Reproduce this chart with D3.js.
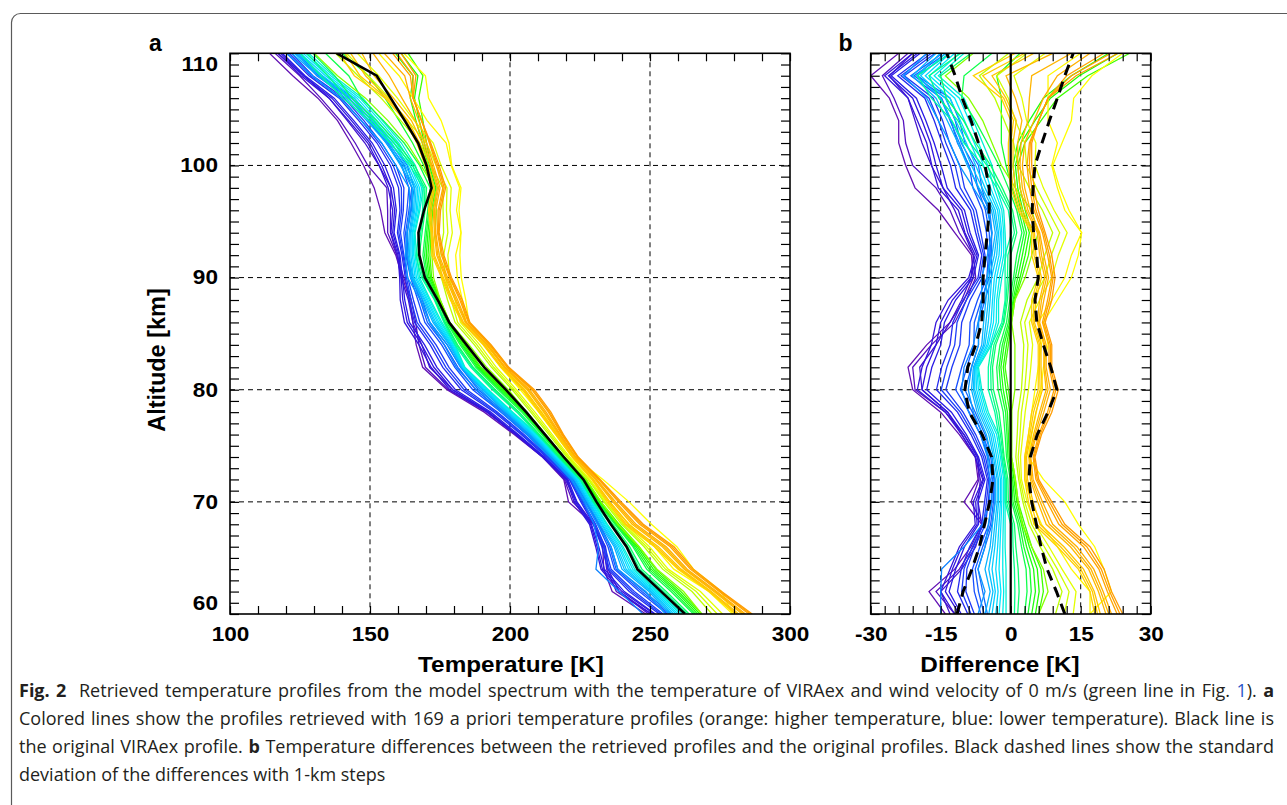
<!DOCTYPE html>
<html><head><meta charset="utf-8">
<script src="https://cdn.jsdelivr.net/npm/d3@7"></script>
<style>body{margin:0;background:#fff;} svg{display:block;}</style>
</head><body>
<svg id="chart" width="1287" height="805"></svg>
<script>
// ---------------- data ----------------
const altitudes = [60,62,64,66,68,70,72,74,76,78,80,82,84,86,88,90,92,94,96,98,100,102,104,106,108,110];
const viraexProfile = [262.5,254,245.5,241.6,236,230.9,226.2,219.2,212.5,205.8,198.5,190.8,184.5,178.3,174.2,169.6,167.6,167.3,169.3,172,170.2,167.2,162.4,157.4,152.4,138.1];
const sigmaMinus = [-11.5,-10.2,-8.3,-6.7,-5.6,-4.5,-3.8,-4.1,-6.1,-8.9,-9.8,-9.2,-7.5,-6.2,-5.9,-5.9,-5.5,-5,-4.6,-4.6,-5.5,-6.9,-8.5,-10.4,-11.9,-13.7];
const sigmaPlus  = [11.6,9.8,7.8,6.5,5.5,4.5,3.9,4.2,5.7,8,9.9,8.6,7,5.6,5.2,5.9,5.6,4.9,4.6,4.8,5.2,6.7,8.3,10,11.6,13.4];

// differences (retrieved - original), one array per profile, altitudes 60..110 km
const purpleDiffs = [
  [-14,-17.5,-12,-8.5,-6.2,-10,-7,-7.6,-11,-15,-21,-22,-18,-13,-10,-8,-8.4,-12,-15.5,-20.5,-22.5,-24,-24,-26,-30,-24],
  [-12,-16,-11,-8,-6,-8.5,-6.8,-7,-10,-14,-20.5,-21,-17,-12,-9.5,-7.5,-8,-11,-13,-16,-21,-22.5,-23,-25,-27.5,-22],
  [-13,-15,-10.5,-7.5,-6.2,-7,-6.5,-7.5,-10.5,-13.5,-19,-19.5,-16,-13,-10.5,-8.5,-8,-10,-12,-14.5,-17,-19,-20.5,-22,-26,-21]
];
const purpleColorPos = [0.0, 0.03, 0.07];

const blueDiffs = [
  [-12,-15,-13,-11,-7.6,-8,-6,-7.6,-10.5,-14,-20,-19,-17,-16,-13.4,-9,-7.6,-9.8,-11.2,-15.5,-16.9,-18,-20,-22,-27,-21],
  [-11,-14,-12.5,-10.5,-7.2,-7.5,-5.8,-7.2,-10,-13.5,-19,-18,-16,-15,-12.5,-8.5,-7.2,-9.2,-10.5,-14.5,-16,-17.2,-19,-21,-26.2,-20],
  [-10.6,-13.2,-11.8,-9.9,-6.9,-7,-5.5,-6.9,-9.5,-12.7,-18,-16.9,-15,-14.2,-11.8,-8,-6.9,-8.7,-9.9,-13.6,-14.9,-16.4,-18.2,-20.2,-25.6,-19.4],
  [-9.2,-11.4,-10.6,-8.8,-6.2,-5.6,-5,-6.2,-8.5,-11.4,-15.9,-14.8,-13,-12.4,-10.2,-7,-6.2,-7.5,-8.6,-11.8,-12.9,-14.7,-16.4,-18.4,-24.2,-17.8],
  [-8.5,-10.5,-10,-8.2,-5.8,-5.2,-4.7,-5.8,-8,-10.8,-14.9,-13.7,-12,-11.5,-9.5,-6.6,-5.8,-7,-8,-10.8,-11.9,-13.9,-15.5,-17.5,-23.5,-17],
  [-7.8,-9.6,-9.4,-7.7,-5.4,-4.8,-4.4,-5.4,-7.5,-10.2,-13.9,-12.6,-10.9,-10.5,-8.7,-6.1,-5.5,-6.4,-7.4,-9.9,-10.9,-13.1,-14.6,-16.6,-22.8,-16.2],
  [-6.4,-7.8,-8.2,-6.6,-4.7,-4.1,-3.9,-4.7,-6.5,-8.9,-11.8,-10.5,-8.9,-8.7,-7.1,-5.1,-4.8,-5.2,-6.1,-8.1,-8.9,-11.4,-12.8,-14.8,-21.4,-14.6],
  [-5.7,-6.9,-7.6,-6,-4.3,-3.7,-3.6,-4.3,-6,-8.2,-10.8,-9.4,-7.9,-7.8,-6.3,-4.6,-4.4,-4.6,-5.4,-7.1,-7.9,-10.6,-11.9,-13.9,-20.7,-13.8],
  [-5,-6,-7,-5.5,-4,-3.4,-3.4,-4,-5.5,-7.6,-9.8,-8.4,-6.9,-6.9,-5.5,-4.1,-4.1,-4.1,-4.8,-6.2,-6.9,-9.8,-11,-13,-20,-13]
];
const blueColorPos = [0.1, 0.11, 0.13, 0.16, 0.2, 0.19, 0.23, 0.25, 0.27];

const cyanDiffs = [
  [-15,-15,-14.8,-10,-6,-4.5,-4.5,-5,-6.5,-9,-10.5,-10,-8,-7,-6,-5,-4.5,-4,-4.5,-7,-9,-11,-13,-15,-20,-15],
  [-7,-5.5,-7,-5.5,-4.8,-4,-4,-4.8,-6,-8,-9.1,-8.4,-6.9,-6.9,-6.2,-6.2,-5,-4,-5,-8,-11,-13,-15.5,-18,-23,-18],
  [-5.5,-4.4,-5.5,-4.4,-3.9,-3.3,-3.3,-4.1,-5.2,-7.2,-8.4,-8,-6.2,-5.8,-5.3,-5.1,-4,-3.3,-4.1,-6.8,-9.3,-11.3,-13.6,-16,-21.1,-16],
  [-4.7,-3.8,-4.7,-3.9,-3.4,-2.9,-2.9,-3.7,-4.7,-6.8,-8,-7.8,-5.8,-5.3,-4.8,-4.6,-3.5,-2.9,-3.7,-6.1,-8.4,-10.4,-12.7,-15,-20.2,-15],
  [-4,-3.3,-4,-3.4,-3,-2.6,-2.6,-3.4,-4.3,-6.4,-7.7,-7.7,-5.5,-4.8,-4.4,-4.1,-3,-2.6,-3.3,-5.5,-7.5,-9.5,-11.8,-14,-19.3,-14],
  [-3.2,-2.7,-3.2,-2.8,-2.5,-2.2,-2.2,-3,-3.9,-6,-7.3,-7.5,-5.1,-4.2,-3.9,-3.5,-2.5,-2.2,-2.8,-4.9,-6.6,-8.6,-10.8,-13,-18.3,-13],
  [-2.5,-2.1,-2.5,-2.3,-2.1,-1.9,-1.9,-2.6,-3.5,-5.6,-6.9,-7.3,-4.8,-3.7,-3.5,-3,-2,-1.9,-2.4,-4.3,-5.8,-7.8,-9.9,-12,-17.4,-12],
  [-1.7,-1.5,-1.7,-1.7,-1.6,-1.5,-1.5,-2.2,-3,-5.2,-6.5,-7.1,-4.4,-3.1,-3,-2.4,-1.5,-1.5,-1.9,-3.6,-4.9,-6.9,-8.9,-11,-16.4,-11],
  [-1,-1,-1,-1.2,-1.2,-1.2,-1.2,-1.9,-2.6,-4.8,-6.2,-6.9,-4.1,-2.6,-2.6,-1.9,-1,-1.2,-1.5,-3,-4,-6,-8,-10,-15.5,-10]
];
const cyanColorPos = [0.3, 0.33, 0.37, 0.39, 0.41, 0.43, 0.45, 0.47, 0.49];

const greenDiffs = [
  [0,0,0,0,0,-1.2,-1.2,-1.9,-2.6,-3.4,-4.8,-4.8,-4.1,-1.9,-1.2,-1.2,-1.2,0.2,-0.5,-3,-6,-10,-12.6,-17,-20,-13],
  [0.8,0.9,0.8,0.5,0.4,-0.9,-0.9,-1.6,-2.2,-3,-4.2,-4.3,-3.6,-1.6,-1,-0.7,-0.6,0.8,0,-2.4,-5.1,-8.7,-11.3,-15.4,-17.5,-10.7],
  [1.5,1.8,1.6,1.1,0.8,-0.5,-0.6,-1.4,-1.9,-2.5,-3.7,-3.9,-3.2,-1.4,-0.7,-0.3,0,1.3,0.4,-1.8,-4.3,-7.5,-10.1,-13.8,-15,-8.5],
  [3,3.5,3.3,2.3,1.5,0.2,-0.1,-0.9,-1.2,-1.6,-2.7,-3,-2.3,-0.9,-0.2,0.6,1.3,2.4,1.3,-0.5,-2.5,-5,-7.6,-10.5,-10,-4],
  [3.7,4.4,4.1,2.8,1.9,0.5,0.2,-0.6,-0.8,-1.1,-2.1,-2.5,-1.8,-0.5,0.2,1,1.9,2.9,1.7,0.3,-1,-2,-2,-2,-3,2],
  [4.5,5.3,4.9,3.4,2.3,0.9,0.4,-0.3,-0.5,-0.7,-1.6,-2.1,-1.4,-0.2,0.5,1.5,2.5,3.4,2.2,1,0.5,1.5,4,7,13,21],
  [5.3,6.1,5.7,4,2.6,1.3,0.7,0,-0.1,-0.2,-1,-1.6,-0.9,0,0.7,2,3.1,4,2.6,1.5,1,2.2,5.2,8.5,14.7,23],
  [6,7,6.5,4.5,3,1.6,1,0.2,0.2,0.2,-0.5,-1.2,-0.5,0.2,0.9,2.4,3.8,4.5,3.1,2,1.5,3,6.5,10,16.5,25.5]
];
const greenColorPos = [0.54, 0.56, 0.58, 0.6, 0.62, 0.64, 0.65, 0.67];

const yellowDiffs = [
  [6,8,7,4.5,2.5,1.6,1,0.2,0.2,0.2,0.9,0.9,0.9,0.2,0.9,3.1,4.5,5.9,4.5,1,-2,-4,-6,-9,-14,-8],
  [9.6,11,9,6.3,3.9,2.6,1.7,1.1,1.4,1.6,2.3,2.6,2.8,2.1,3.5,5.9,7.3,9,6.8,4,1.6,0.6,-1.4,-3.4,-6.7,-0.4],
  [11.5,12.5,10,7.2,4.5,3,2,1.6,2,2.3,3,3.4,3.7,3,4.8,7.3,8.7,10.5,8,5.5,3.4,3,1,-0.5,-3,3.5],
  [13.4,14,11,8.2,5.2,3.5,2.3,2.1,2.6,3.1,3.8,4.3,4.7,4,6.2,8.8,10.2,12.1,9.3,7,5.2,5.4,3.4,2.4,0.7,7.4],
  [17,17,13,10,6.6,4.5,3,3,3.8,4.5,5.2,5.9,6.6,5.9,8.8,11.6,13,15.2,11.6,10,8.8,10,8,8,8,15],
  [17,21.6,20,18,14.5,11.6,7,3.8,4.5,5.5,6.5,7,8,7,10,13,14.5,15.2,12.5,10.5,9,11,13,13.5,17.4,24]
];
const yellowColorPos = [0.72, 0.76, 0.78, 0.8, 0.84, 0.83];

const orangeDiffs = [
  [18,17,14.5,10,5,3.8,3,3,3.8,4.5,5.9,5.9,5.9,4.5,4.5,5.9,4.5,4.5,1.6,0,-0.5,-0.5,0,-2,-8,1],
  [18.6,17.5,15,10.7,5.6,4.3,3.3,3.2,4.1,4.9,6.3,6.2,6.2,4.8,5,6.2,5,4.8,2,0.5,0,0,0.6,-1.5,-6,3],
  [19.2,17.9,15.6,11.4,6.3,4.8,3.6,3.4,4.4,5.4,6.8,6.5,6.5,5.1,5.4,6.6,5.4,5.1,2.5,1,0.5,0.5,1.2,-1,-4,5],
  [20.4,18.8,16.7,12.8,7.6,5.8,4.2,3.9,4.9,6.2,7.6,7.1,7.1,5.7,6.2,7.3,6.2,5.7,3.3,2,1.5,1.5,2.4,1,-1,9],
  [21,19.3,17.2,13.5,8.3,6.3,4.5,4.1,5.2,6.6,8,7.3,7.3,6,6.6,7.7,6.6,6,3.7,2.5,2,2.2,3.7,4,4.5,13],
  [21.6,19.8,17.8,14.2,9,6.8,4.8,4.3,5.5,7.1,8.5,7.6,7.6,6.2,7.1,8.1,7.1,6.2,4.2,3,2.5,3,5,7,10,17],
  [22.8,20.7,18.9,15.6,10.3,7.8,5.4,4.8,6,7.9,9.3,8.2,8.2,6.8,7.9,8.8,7.9,6.8,5,4,3.5,4,6,8,12,20],
  [23.4,21.2,19.4,16.3,11,8.3,5.7,5,6.3,8.3,9.7,8.5,8.5,7.1,8.3,9.1,8.3,7.1,5.4,4.5,4,4.2,6,8,13,21.5],
  [24,21.6,20,17,11.6,8.8,6,5.2,6.6,8.8,10.2,8.8,8.8,7.4,8.8,9.5,8.8,7.4,5.9,5,4.5,4.5,6,8,14,23]
];
const orangeColorPos = [0.9, 0.91, 0.92, 0.94, 0.95, 0.96, 0.98, 0.99, 1.0];

// colour table (rainbow, blue = lower, orange = higher)
const colorStopPos = [0, 0.12, 0.22, 0.32, 0.45, 0.55, 0.65, 0.75, 0.83, 0.92, 1];
const colorStopHex = ["#6412b4","#2c16e2","#1848ff","#0a90ff","#00e6ff","#00ff96","#20ff00","#b4ff00","#ffff00","#ffc400","#ff9c00"];

// axis ticks
const tempTicks = [100,150,200,250,300];
const diffTicks = [-30,-15,0,15,30];
const altLabels = ["60","70","80","90","100","110"];
const altLabelAt = [61,70,80,90,100,109];
const altGrid = [70,80,90,100];
const tempGrid = [150,200,250];
const diffGrid = [-15,15];

// ---------------- drawing ----------------
const svg = d3.select("#chart");
const FONT = "'Liberation Sans', Arial, Helvetica, sans-serif";
const yTop = 53.3, yBot = 614;
const y = d3.scaleLinear().domain([60,110]).range([yBot,yTop]);
const xA = d3.scaleLinear().domain([100,300]).range([230,790]);
const xB = d3.scaleLinear().domain([-30,30]).range([870.7,1150.7]);
const color = d3.scaleLinear().domain(colorStopPos).range(colorStopHex).interpolate(d3.interpolateRgb);
const STRETCH = "scale(1.13,1)";

// frame
svg.append("rect").attr("x",11.5).attr("y",13.5).attr("width",1330).attr("height",830)
  .attr("rx",9).attr("fill","none").attr("stroke","#5a5a5a").attr("stroke-width",1.2);

const defs = svg.append("defs");
[["clipA",xA],["clipB",xB]].forEach(([id,x])=>{
  defs.append("clipPath").attr("id",id).append("rect")
    .attr("x",x.range()[0]).attr("y",yTop).attr("width",x.range()[1]-x.range()[0]).attr("height",yBot-yTop);
});

const profiles = [];
[[purpleDiffs,purpleColorPos],[blueDiffs,blueColorPos],[cyanDiffs,cyanColorPos],
 [greenDiffs,greenColorPos],[yellowDiffs,yellowColorPos],[orangeDiffs,orangeColorPos]]
 .forEach(([ds,cs])=>ds.forEach((d,i)=>profiles.push({diff:d,c:cs[i]})));
profiles.sort((a,b)=>a.c-b.c);

function panel(x, gridX, clipId) {
  const g = svg.append("g");
  g.selectAll(".gx").data(gridX).join("line")
    .attr("x1",d=>x(d)).attr("x2",d=>x(d)).attr("y1",yTop).attr("y2",yBot)
    .attr("stroke","#000").attr("stroke-width",1).attr("stroke-dasharray","5,4");
  g.selectAll(".gy").data(altGrid).join("line")
    .attr("x1",x.range()[0]).attr("x2",x.range()[1]).attr("y1",d=>y(d)).attr("y2",d=>y(d))
    .attr("stroke","#000").attr("stroke-width",1).attr("stroke-dasharray","5,4");
  const plot = g.append("g").attr("clip-path",`url(#${clipId})`);
  return {g, plot};
}

function axes(g, x, xTicks, xMinorStep, showYLabels) {
  const [x0,x1] = x.range();
  const minor = d3.range(x.domain()[0], x.domain()[1]+1e-9, xMinorStep);
  const alt1 = d3.range(60,110.001,1);
  const styleAxis = sel => { sel.select(".domain").remove(); sel.selectAll("line").attr("stroke","#000").attr("stroke-width",1.2); };
  g.append("g").attr("transform",`translate(0,${yBot})`)
    .call(d3.axisBottom(x).tickValues(minor).tickSize(-8).tickFormat("")).call(styleAxis);
  g.append("g").attr("transform",`translate(0,${yTop})`)
    .call(d3.axisTop(x).tickValues(minor).tickSize(-8).tickFormat("")).call(styleAxis);
  g.append("g").attr("transform",`translate(${x0},0)`)
    .call(d3.axisLeft(y).tickValues(alt1).tickSize(-9).tickFormat("")).call(styleAxis);
  g.append("g").attr("transform",`translate(${x1},0)`)
    .call(d3.axisRight(y).tickValues(alt1).tickSize(-9).tickFormat("")).call(styleAxis);
  g.append("rect").attr("x",x0).attr("y",yTop).attr("width",x1-x0).attr("height",yBot-yTop)
    .attr("fill","none").attr("stroke","#000").attr("stroke-width",1.6);
  const xl = g.append("g").attr("transform",`translate(0,641)`)
    .call(d3.axisBottom(x).tickValues(xTicks).tickSize(0).tickFormat(d=>String(d)));
  xl.select(".domain").remove();
  xl.selectAll("text").attr("font-family",FONT).attr("font-weight","bold").attr("font-size",20)
    .attr("fill","#000").attr("y",0).attr("dy",0).attr("transform",STRETCH);
  if (showYLabels) {
    const yl = g.append("g").attr("transform",`translate(${x0-12},0)`)
      .call(d3.axisLeft(y).tickValues(altLabelAt).tickSize(0).tickFormat((d,i)=>altLabels[i]));
    yl.select(".domain").remove();
    yl.selectAll("text").attr("font-family",FONT).attr("font-weight","bold").attr("font-size",20)
      .attr("fill","#000").attr("x",0).attr("transform",STRETCH);
  }
}

const line = (x, vals) => d3.line().x((d,i)=>x(vals[i])).y((d,i)=>y(altitudes[i]))(altitudes);

// ---- panel a ----
const A = panel(xA, tempGrid, "clipA");
A.plot.selectAll("path.prof").data(profiles).join("path").attr("class","prof")
  .attr("d",p=>line(xA, p.diff.map((d,i)=>viraexProfile[i]+d)))
  .attr("fill","none").attr("stroke",p=>color(p.c)).attr("stroke-width",1.3);
A.plot.append("path").attr("d",line(xA, viraexProfile))
  .attr("fill","none").attr("stroke","#000").attr("stroke-width",2.6);
axes(A.g, xA, tempTicks, 10, true);

// ---- panel b ----
const B = panel(xB, diffGrid, "clipB");
B.plot.selectAll("path.prof").data(profiles).join("path").attr("class","prof")
  .attr("d",p=>line(xB, p.diff))
  .attr("fill","none").attr("stroke",p=>color(p.c)).attr("stroke-width",1.3);
B.plot.append("line").attr("x1",xB(0)).attr("x2",xB(0)).attr("y1",yTop).attr("y2",yBot)
  .attr("stroke","#000").attr("stroke-width",2.2);
[sigmaMinus,sigmaPlus].forEach(s=>{
  B.plot.append("path").attr("d",line(xB,s)).attr("fill","none")
    .attr("stroke","#000").attr("stroke-width",3).attr("stroke-dasharray","11,7");
});
axes(B.g, xB, diffTicks, 3, false);

// titles
const title = (x, yy, txt) => svg.append("g").attr("transform",`translate(${x},${yy}) ${STRETCH}`)
  .append("text").attr("text-anchor","middle").attr("font-family",FONT).attr("font-weight","bold")
  .attr("font-size",21.5).text(txt);
title(511, 672, "Temperature [K]");
title(1000, 672, "Difference [K]");
svg.append("text").attr("transform",`translate(165,360) rotate(-90)`).attr("text-anchor","middle")
  .attr("font-family",FONT).attr("font-weight","bold").attr("font-size",23.5).text("Altitude [km]");
svg.append("text").attr("x",155.5).attr("y",51).attr("text-anchor","middle")
  .attr("font-family",FONT).attr("font-weight","bold").attr("font-size",23).text("a");
svg.append("text").attr("x",845.5).attr("y",51).attr("text-anchor","middle")
  .attr("font-family",FONT).attr("font-weight","bold").attr("font-size",23).text("b");

// caption: each run is its own text element; justified lines get adjusted word spacing
const CF = "'Open Sans','Noto Sans',sans-serif";
const CAP_FS = 18, CAP_X = 19, CAP_WIDTH = 1255;
// [text, style, spaces before]
const cap = [
  {y:697, full:true, parts:[["Fig. 2","b",0],["Retrieved temperature profiles from the model spectrum with the temperature of VIRAex and wind velocity of 0 m/s (green line in Fig.","",2],["1","link",1],[").","",0],["a","b",1]]},
  {y:725, full:true, parts:[["Colored lines show the profiles retrieved with 169 a priori temperature profiles (orange: higher temperature, blue: lower temperature). Black line is","",0]]},
  {y:753, full:true, parts:[["the original VIRAex profile.","",0],["b","b",1],["Temperature differences between the retrieved profiles and the original profiles. Black dashed lines show the standard","",1]]},
  {y:781, full:false, parts:[["deviation of the differences with 1-km steps","",0]]}
];
const mk = (txt, style) => {
  const t = svg.append("text").attr("font-family",CF).attr("font-size",CAP_FS).attr("fill","#231f20").text(txt);
  if (style==="b") t.attr("font-weight","bold");
  if (style==="link") t.attr("fill","#2a55c8");
  return t;
};
const probe1 = mk("n n",""), probe2 = mk("nn","");
const SPACE = probe1.node().getComputedTextLength() - probe2.node().getComputedTextLength();
probe1.remove(); probe2.remove();
cap.forEach(c=>{
  const runs = c.parts.map(([s,k,sp])=>{
    const t = mk(s,k).attr("y",c.y);
    return {t, w:t.node().getComputedTextLength(), nIn:s.split(" ").length-1, sp};
  });
  let ws = 0;
  if (c.full) {
    const used = d3.sum(runs,r=>r.w) + d3.sum(runs,r=>r.sp)*SPACE;
    const gaps = d3.sum(runs,r=>r.nIn + r.sp);
    ws = Math.max(-SPACE*0.5,(CAP_WIDTH - used)/gaps);
  }
  let x = CAP_X;
  runs.forEach(r=>{
    x += r.sp*(SPACE+ws);
    r.t.attr("x",x).attr("word-spacing",ws);
    x += r.w + r.nIn*ws;
  });
});
</script>
</body></html>
